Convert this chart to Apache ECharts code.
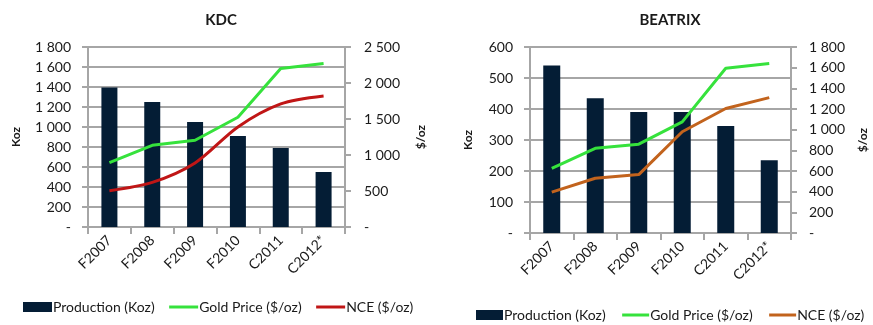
<!DOCTYPE html>
<html><head><meta charset="utf-8">
<script src="https://cdn.jsdelivr.net/npm/echarts@6/dist/echarts.min.js"></script>
<style>html,body{margin:0;padding:0;background:#fff}#c{width:873px;height:325px}</style>
</head><body><div id="c"></div>
<script>
const categories = ['F2007','F2008','F2009','F2010','C2011','C2012*'];
const kdcProduction = [1395, 1250, 1050, 910, 790, 550];
const kdcGold = [895, 1135, 1205, 1525, 2200, 2270];
const kdcNce = [505, 620, 890, 1390, 1710, 1820];
const beaProduction = [540, 435, 390, 390, 345, 235];
const beaGold = [625, 820, 860, 1075, 1595, 1640];
const beaNce = [395, 530, 565, 980, 1205, 1310];

const FONT = 'Lato';
const TXT = '#1a1a1a';
const GRID = '#a6a6a6';
const BAR = '#041d35';
const GREEN = '#36e23c';
const RED = '#c01616';
const ORANGE = '#c2631d';
const HIDE = {color:'rgba(0,0,0,0)', borderWidth:0};

function fmt(v){
  if (v === 0) return '-';
  return String(v).replace(/\B(?=(\d{3})+(?!\d))/g, ' ');
}
function yAx(gi, min, max, interval, name, gap, pos, split, lblMargin){
  return {
    type:'value', gridIndex:gi, min:min, max:max, interval:interval, position:pos,
    name:name, nameLocation:'middle', nameRotate:90, nameGap:gap,
    nameTextStyle:{fontFamily:FONT, fontSize:12, color:TXT, fontWeight:'bold'},
    axisLine:{show:true, lineStyle:{color:GRID, width:2}},
    axisTick:{show:true, length:6, lineStyle:{color:GRID, width:2}},
    axisLabel:{formatter:fmt, fontFamily:FONT, fontSize:14, color:TXT, margin:lblMargin},
    splitLine:{show:split, lineStyle:{color:GRID, width:2}}
  };
}
function xAx(gi){
  return {
    type:'category', gridIndex:gi, data:categories, boundaryGap:true,
    axisLine:{show:true, lineStyle:{color:GRID, width:2}},
    axisTick:{show:true, interval:0, length:7, lineStyle:{color:GRID, width:2}},
    axisLabel:{interval:0, rotate:45, fontFamily:FONT, fontSize:14, color:TXT, margin:11}
  };
}
const chart = echarts.init(document.getElementById('c'), null, {renderer:'canvas'});
chart.setOption({
  animation:false,
  backgroundColor:'#fff',
  title:[
    {text:'KDC', left:216, top:8, textAlign:'center', textStyle:{fontFamily:FONT, fontSize:15, fontWeight:'bold', color:TXT}},
    {text:'BEATRIX', left:665, top:8, textAlign:'center', textStyle:{fontFamily:FONT, fontSize:15, fontWeight:'bold', color:TXT}}
  ],
  grid:[
    {left:88, right:528, top:47, bottom:98},
    {left:530, right:82, top:47, bottom:92}
  ],
  xAxis:[xAx(0), xAx(1)],
  yAxis:[
    yAx(0, 0, 1800, 200, 'Koz', 66, 'left', true, 17),
    yAx(0, 0, 2500, 500, '$/oz', 70, 'right', false, 19),
    yAx(1, 0, 600, 100, 'Koz', 56, 'left', true, 17),
    yAx(1, 0, 1800, 200, '$/oz', 66, 'right', false, 18)
  ],
  legend:[
    {left:23, top:300, padding:0, itemWidth:29, itemHeight:10, itemGap:13,
     textStyle:{fontFamily:FONT, fontSize:14, color:TXT, padding:[0,0,0,-4]},
     data:[{name:'Production (Koz)', icon:'rect'},
           {name:'Gold Price ($/oz)', itemStyle:HIDE, lineStyle:{color:GREEN, width:3}},
           {name:'NCE ($/oz)', itemStyle:HIDE, lineStyle:{color:RED, width:3}}]},
    {left:476, top:308, padding:0, itemWidth:27, itemHeight:10, itemGap:15,
     textStyle:{fontFamily:FONT, fontSize:14, color:TXT, padding:[0,0,0,-4]},
     data:[{name:'Production (Koz)', icon:'rect'},
           {name:'Gold Price ($/oz)', itemStyle:HIDE, lineStyle:{color:GREEN, width:3}},
           {name:'NCE ($/oz)', itemStyle:HIDE, lineStyle:{color:ORANGE, width:3}}]}
  ],
  series:[
    {name:'Production (Koz)', type:'bar', xAxisIndex:0, yAxisIndex:0, data:kdcProduction, barWidth:16, itemStyle:{color:BAR}},
    {name:'Gold Price ($/oz)', type:'line', xAxisIndex:0, yAxisIndex:1, data:kdcGold, symbol:'none', lineStyle:{color:GREEN, width:3}, itemStyle:{color:GREEN}},
    {name:'NCE ($/oz)', type:'line', xAxisIndex:0, yAxisIndex:1, data:kdcNce, symbol:'none', smooth:0.3, lineStyle:{color:RED, width:3}, itemStyle:{color:RED}},
    {name:'Production (Koz)', type:'bar', xAxisIndex:1, yAxisIndex:2, data:beaProduction, barWidth:17, itemStyle:{color:BAR}},
    {name:'Gold Price ($/oz)', type:'line', xAxisIndex:1, yAxisIndex:3, data:beaGold, symbol:'none', lineStyle:{color:GREEN, width:3}, itemStyle:{color:GREEN}},
    {name:'NCE ($/oz)', type:'line', xAxisIndex:1, yAxisIndex:3, data:beaNce, symbol:'none', lineStyle:{color:ORANGE, width:3}, itemStyle:{color:ORANGE}}
  ]
});
</script></body></html>
